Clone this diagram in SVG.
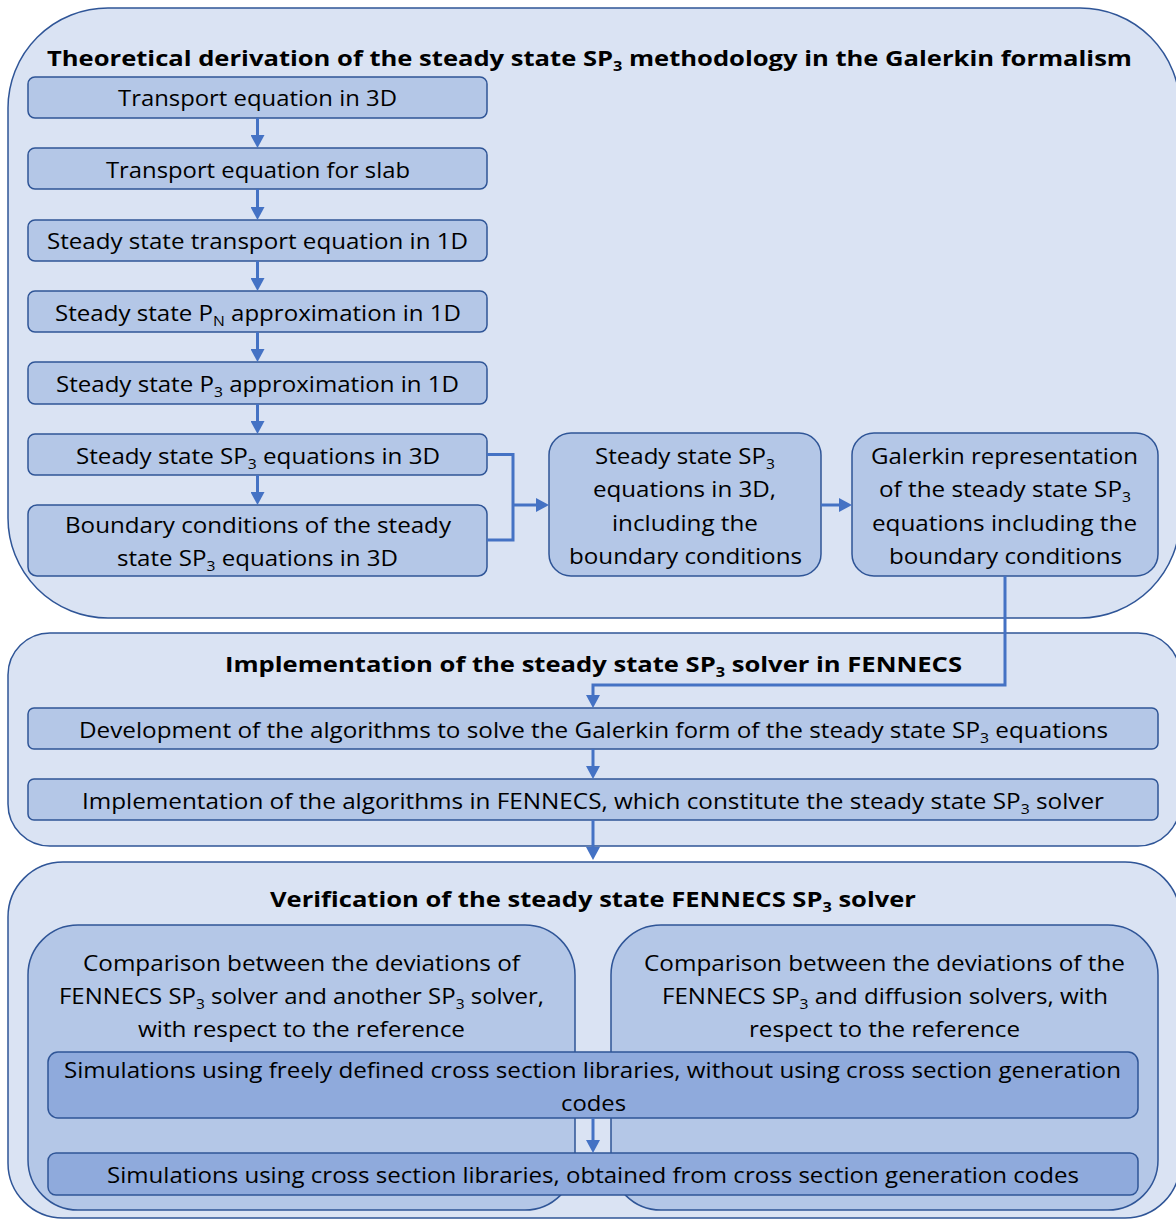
<svg xmlns="http://www.w3.org/2000/svg" width="1176" height="1220" viewBox="0 0 1176 1220">
<defs>
<style>
.cont{fill:#dae3f3;stroke:#2f5597;stroke-width:1.5}
.node{fill:#b4c7e7;stroke:#2f5597;stroke-width:1.5}
.sim{fill:#8faadc;stroke:#2f5597;stroke-width:1.5}
.t{font-family:'Open Sans','Liberation Sans',sans-serif;font-size:21.5px;fill:#000;text-anchor:middle}
.h{font-weight:bold;font-size:22px}
.s{font-size:14px}
.c{fill:none;stroke:#4472c4;stroke-width:3}
</style>
<marker id="ah" markerUnits="userSpaceOnUse" markerWidth="14" markerHeight="14" refX="3" refY="7" orient="auto">
<path d="M0,0 L13,7 L0,14 z" fill="#4472c4"/>
</marker>
</defs>
<rect width="1176" height="1220" fill="#ffffff"/>

<g id="container1">
<rect class="cont" x="8" y="8" width="1172" height="610" rx="100"/>
<text class="t h" x="589.5" y="66" textLength="1085" lengthAdjust="spacingAndGlyphs">Theoretical derivation of the steady state SP<tspan class="s" dy="5">3</tspan><tspan dy="-5"> methodology in the Galerkin formalism</tspan></text>
</g>
<g id="container2">
<rect class="cont" x="8" y="633" width="1172" height="213" rx="42"/>
<text class="t h" x="593.5" y="672" textLength="737" lengthAdjust="spacingAndGlyphs">Implementation of the steady state SP<tspan class="s" dy="5">3</tspan><tspan dy="-5"> solver in FENNECS</tspan></text>
</g>
<g id="container3">
<rect class="cont" x="8" y="862" width="1172" height="356" rx="55"/>
<text class="t h" x="593" y="907" textLength="646" lengthAdjust="spacingAndGlyphs">Verification of the steady state FENNECS SP<tspan class="s" dy="5">3</tspan><tspan dy="-5"> solver</tspan></text>
</g>

<g id="n1"><rect class="node" x="28" y="77" width="459" height="41" rx="7"/>
<text class="t" x="257.5" y="106" textLength="279" lengthAdjust="spacingAndGlyphs">Transport equation in 3D</text></g>
<g id="n2"><rect class="node" x="28" y="148" width="459" height="41" rx="7"/>
<text class="t" x="258" y="178" textLength="304" lengthAdjust="spacingAndGlyphs">Transport equation for slab</text></g>
<g id="n3"><rect class="node" x="28" y="220" width="459" height="41" rx="7"/>
<text class="t" x="257.5" y="249" textLength="421" lengthAdjust="spacingAndGlyphs">Steady state transport equation in 1D</text></g>
<g id="n4"><rect class="node" x="28" y="291" width="459" height="41" rx="7"/>
<text class="t" x="258" y="321" textLength="406" lengthAdjust="spacingAndGlyphs">Steady state P<tspan class="s" dy="5">N</tspan><tspan dy="-5"> approximation in 1D</tspan></text></g>
<g id="n5"><rect class="node" x="28" y="362" width="459" height="42" rx="7"/>
<text class="t" x="257.5" y="392" textLength="403" lengthAdjust="spacingAndGlyphs">Steady state P<tspan class="s" dy="5">3</tspan><tspan dy="-5"> approximation in 1D</tspan></text></g>
<g id="n6"><rect class="node" x="28" y="434" width="459" height="41" rx="7"/>
<text class="t" x="258" y="464" textLength="364" lengthAdjust="spacingAndGlyphs">Steady state SP<tspan class="s" dy="5">3</tspan><tspan dy="-5"> equations in 3D</tspan></text></g>
<g id="n7"><rect class="node" x="28" y="505" width="459" height="71" rx="9"/>
<text class="t" x="258" y="533" textLength="386" lengthAdjust="spacingAndGlyphs">Boundary conditions of the steady</text>
<text class="t" x="257.5" y="566" textLength="281" lengthAdjust="spacingAndGlyphs">state SP<tspan class="s" dy="5">3</tspan><tspan dy="-5"> equations in 3D</tspan></text></g>
<g id="n8"><rect class="node" x="549" y="433" width="272" height="143" rx="22"/>
<text class="t" x="685" y="464" textLength="180" lengthAdjust="spacingAndGlyphs">Steady state SP<tspan class="s" dy="5">3</tspan></text>
<text class="t" x="684.5" y="497" textLength="183" lengthAdjust="spacingAndGlyphs">equations in 3D,</text>
<text class="t" x="685" y="531" textLength="146" lengthAdjust="spacingAndGlyphs">including the</text>
<text class="t" x="685.5" y="564" textLength="233" lengthAdjust="spacingAndGlyphs">boundary conditions</text></g>
<g id="n9"><rect class="node" x="852" y="433" width="306" height="143" rx="22"/>
<text class="t" x="1004.5" y="464" textLength="267" lengthAdjust="spacingAndGlyphs">Galerkin representation</text>
<text class="t" x="1005" y="497" textLength="252" lengthAdjust="spacingAndGlyphs">of the steady state SP<tspan class="s" dy="5">3</tspan></text>
<text class="t" x="1004.5" y="531" textLength="265" lengthAdjust="spacingAndGlyphs">equations including the</text>
<text class="t" x="1005.5" y="564" textLength="233" lengthAdjust="spacingAndGlyphs">boundary conditions</text></g>

<g id="n10"><rect class="node" x="28" y="708" width="1130" height="41" rx="6"/>
<text class="t" x="593.5" y="738" textLength="1029" lengthAdjust="spacingAndGlyphs">Development of the algorithms to solve the Galerkin form of the steady state SP<tspan class="s" dy="5">3</tspan><tspan dy="-5"> equations</tspan></text></g>
<g id="n11"><rect class="node" x="28" y="779" width="1130" height="41" rx="6"/>
<text class="t" x="593" y="809" textLength="1022" lengthAdjust="spacingAndGlyphs">Implementation of the algorithms in FENNECS, which constitute the steady state SP<tspan class="s" dy="5">3</tspan><tspan dy="-5"> solver</tspan></text></g>

<g id="n12"><rect class="node" x="28" y="925" width="547" height="285" rx="50"/>
<text class="t" x="301.5" y="971" textLength="437" lengthAdjust="spacingAndGlyphs">Comparison between the deviations of</text>
<text class="t" x="301.5" y="1004" textLength="485" lengthAdjust="spacingAndGlyphs">FENNECS SP<tspan class="s" dy="5">3</tspan><tspan dy="-5"> solver and another SP</tspan><tspan class="s" dy="5">3</tspan><tspan dy="-5"> solver,</tspan></text>
<text class="t" x="301.5" y="1037" textLength="327" lengthAdjust="spacingAndGlyphs">with respect to the reference</text></g>
<g id="n13"><rect class="node" x="611" y="925" width="547" height="285" rx="50"/>
<text class="t" x="884.5" y="971" textLength="481" lengthAdjust="spacingAndGlyphs">Comparison between the deviations of the</text>
<text class="t" x="885" y="1004" textLength="446" lengthAdjust="spacingAndGlyphs">FENNECS SP<tspan class="s" dy="5">3</tspan><tspan dy="-5"> and diffusion solvers, with</tspan></text>
<text class="t" x="884.5" y="1037" textLength="271" lengthAdjust="spacingAndGlyphs">respect to the reference</text></g>
<g id="n14"><rect class="sim" x="48" y="1052" width="1090" height="66" rx="10"/>
<text class="t" x="592.5" y="1078" textLength="1057" lengthAdjust="spacingAndGlyphs">Simulations using freely defined cross section libraries, without using cross section generation</text>
<text class="t" x="593.5" y="1111" textLength="65" lengthAdjust="spacingAndGlyphs">codes</text></g>
<g id="n15"><rect class="sim" x="48" y="1153" width="1090" height="42" rx="8"/>
<text class="t" x="593" y="1183" textLength="972" lengthAdjust="spacingAndGlyphs">Simulations using cross section libraries, obtained from cross section generation codes</text></g>

<g id="connectors">
<path class="c" d="M257.5,118 V138" marker-end="url(#ah)"/>
<path class="c" d="M257.5,189 V210" marker-end="url(#ah)"/>
<path class="c" d="M257.5,261 V281" marker-end="url(#ah)"/>
<path class="c" d="M257.5,332 V352" marker-end="url(#ah)"/>
<path class="c" d="M257.5,404 V424" marker-end="url(#ah)"/>
<path class="c" d="M257.5,475 V495" marker-end="url(#ah)"/>
<path class="c" d="M487,454.5 H513 V540 H487"/>
<path class="c" d="M513,505 H539" marker-end="url(#ah)"/>
<path class="c" d="M821,505 H842" marker-end="url(#ah)"/>
<path class="c" d="M1005,576 V685 H593 V698" marker-end="url(#ah)"/>
<path class="c" d="M593,749 V769" marker-end="url(#ah)"/>
<path class="c" d="M593,820 V850" marker-end="url(#ah)"/>
<path class="c" d="M593,1118 V1143" marker-end="url(#ah)"/>
</g>
</svg>
